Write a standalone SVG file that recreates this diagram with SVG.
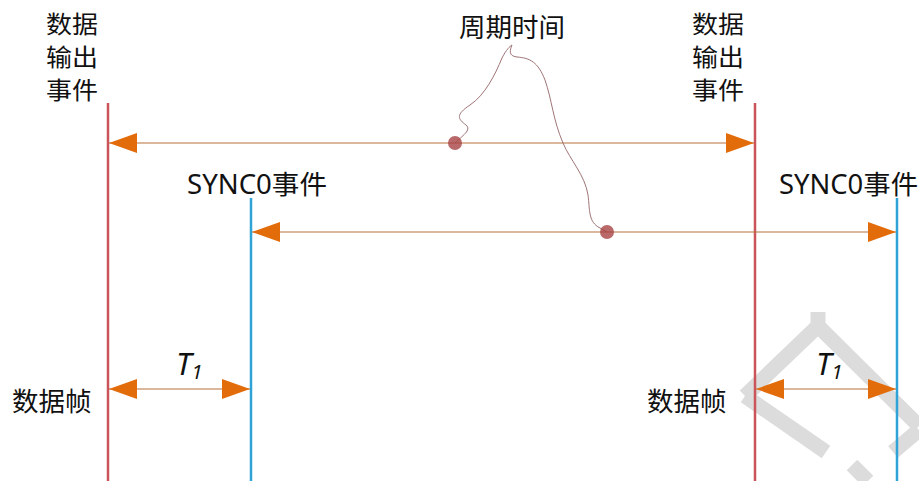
<svg xmlns="http://www.w3.org/2000/svg" width="919" height="481" viewBox="0 0 919 481">
<defs>
<marker id="ah" viewBox="0 0 28 20" refX="28" refY="10" markerWidth="28" markerHeight="20" markerUnits="userSpaceOnUse" orient="auto-start-reverse">
<path d="M0,0 L28,10 L0,20 Z" fill="#E36C0A"/>
</marker>
<style>
.t{font-family:"Noto Sans","Noto Sans CJK SC",sans-serif;font-size:26.5px;fill:#111}
.st{font-family:"Noto Sans","Noto Sans CJK SC",sans-serif;font-size:24px;fill:#111}
.it{font-family:"Noto Sans",sans-serif;font-style:italic;font-size:31px;fill:#111}
.red{stroke:#C9555A;stroke-width:2.5}
.blue{stroke:#2FA3D6;stroke-width:2.5}
.arr{stroke:#B8703E;stroke-width:1.2;fill:none;marker-start:url(#ah);marker-end:url(#ah)}
.wm{stroke:#DCDCDC;stroke-width:15;fill:none}
.dot{fill:#A84444;fill-opacity:0.8}
</style>
</defs>
<rect width="919" height="481" fill="#fff"/>
<g id="watermark">
<path class="wm" d="M745,396 L818,326 L919,426"/>
<path class="wm" d="M745,396 L826,452"/>
<path class="wm" d="M818,312 L818,330"/>
<path class="wm" d="M852,465 L868,481"/>
<path class="wm" d="M919,430 L893,452"/>
</g>
<g id="lines">
<line id="data-out-1" class="red" x1="108" y1="103" x2="108" y2="481"/>
<line id="data-out-2" class="red" x1="755" y1="103" x2="755" y2="481"/>
<line id="sync0-1" class="blue" x1="251" y1="198" x2="251" y2="481"/>
<line id="sync0-2" class="blue" x1="897" y1="198" x2="897" y2="481"/>
</g>
<g id="connectors">
<line class="arr" x1="109" y1="143" x2="754" y2="143"/>
<line class="arr" x1="252" y1="232" x2="896" y2="232"/>
<line class="arr" x1="109" y1="389" x2="250" y2="389"/>
<line class="arr" x1="756" y1="389" x2="896" y2="389"/>
<path d="M455,143 C462,136 472,130 466,125 C458,119 455,115 470,105 C485,95 495,75 502,58 C506,50 510,46 512,45 C510,50 508,56 517,57 C530,58 538,62 545,80 C552,100 553,120 563,143 C570,160 585,175 588,195 C590,210 588,222 600,228 L607,232" fill="none" stroke="#9E7476" stroke-width="1"/>
<circle class="dot" cx="455" cy="143" r="7"/>
<circle class="dot" cx="607" cy="232" r="7"/>
</g>
<g id="label-data-out-1">
<text class="st" x="46" y="33" textLength="52" lengthAdjust="spacingAndGlyphs">数据</text>
<text class="st" x="46" y="66" textLength="52" lengthAdjust="spacingAndGlyphs">输出</text>
<text class="st" x="46" y="99" textLength="52" lengthAdjust="spacingAndGlyphs">事件</text>
</g>
<g id="label-data-out-2">
<text class="st" x="692" y="33" textLength="52" lengthAdjust="spacingAndGlyphs">数据</text>
<text class="st" x="692" y="66" textLength="52" lengthAdjust="spacingAndGlyphs">输出</text>
<text class="st" x="692" y="99" textLength="52" lengthAdjust="spacingAndGlyphs">事件</text>
</g>
<g id="label-period"><text class="t" x="459" y="37">周期时间</text></g>
<g id="label-sync0-1"><text class="t" x="187" y="194" textLength="140" lengthAdjust="spacingAndGlyphs">SYNC0事件</text></g>
<g id="label-sync0-2"><text class="t" x="779" y="194" textLength="139" lengthAdjust="spacingAndGlyphs">SYNC0事件</text></g>
<g id="label-frame-1"><text class="t" x="12" y="411">数据帧</text></g>
<g id="label-frame-2"><text class="t" x="647" y="411">数据帧</text></g>
<g id="label-t1-1"><text class="it" x="176" y="375">T<tspan style="font-size:20px" dy="4">1</tspan></text></g>
<g id="label-t1-2"><text class="it" x="816" y="375">T<tspan style="font-size:20px" dy="4">1</tspan></text></g>
</svg>
